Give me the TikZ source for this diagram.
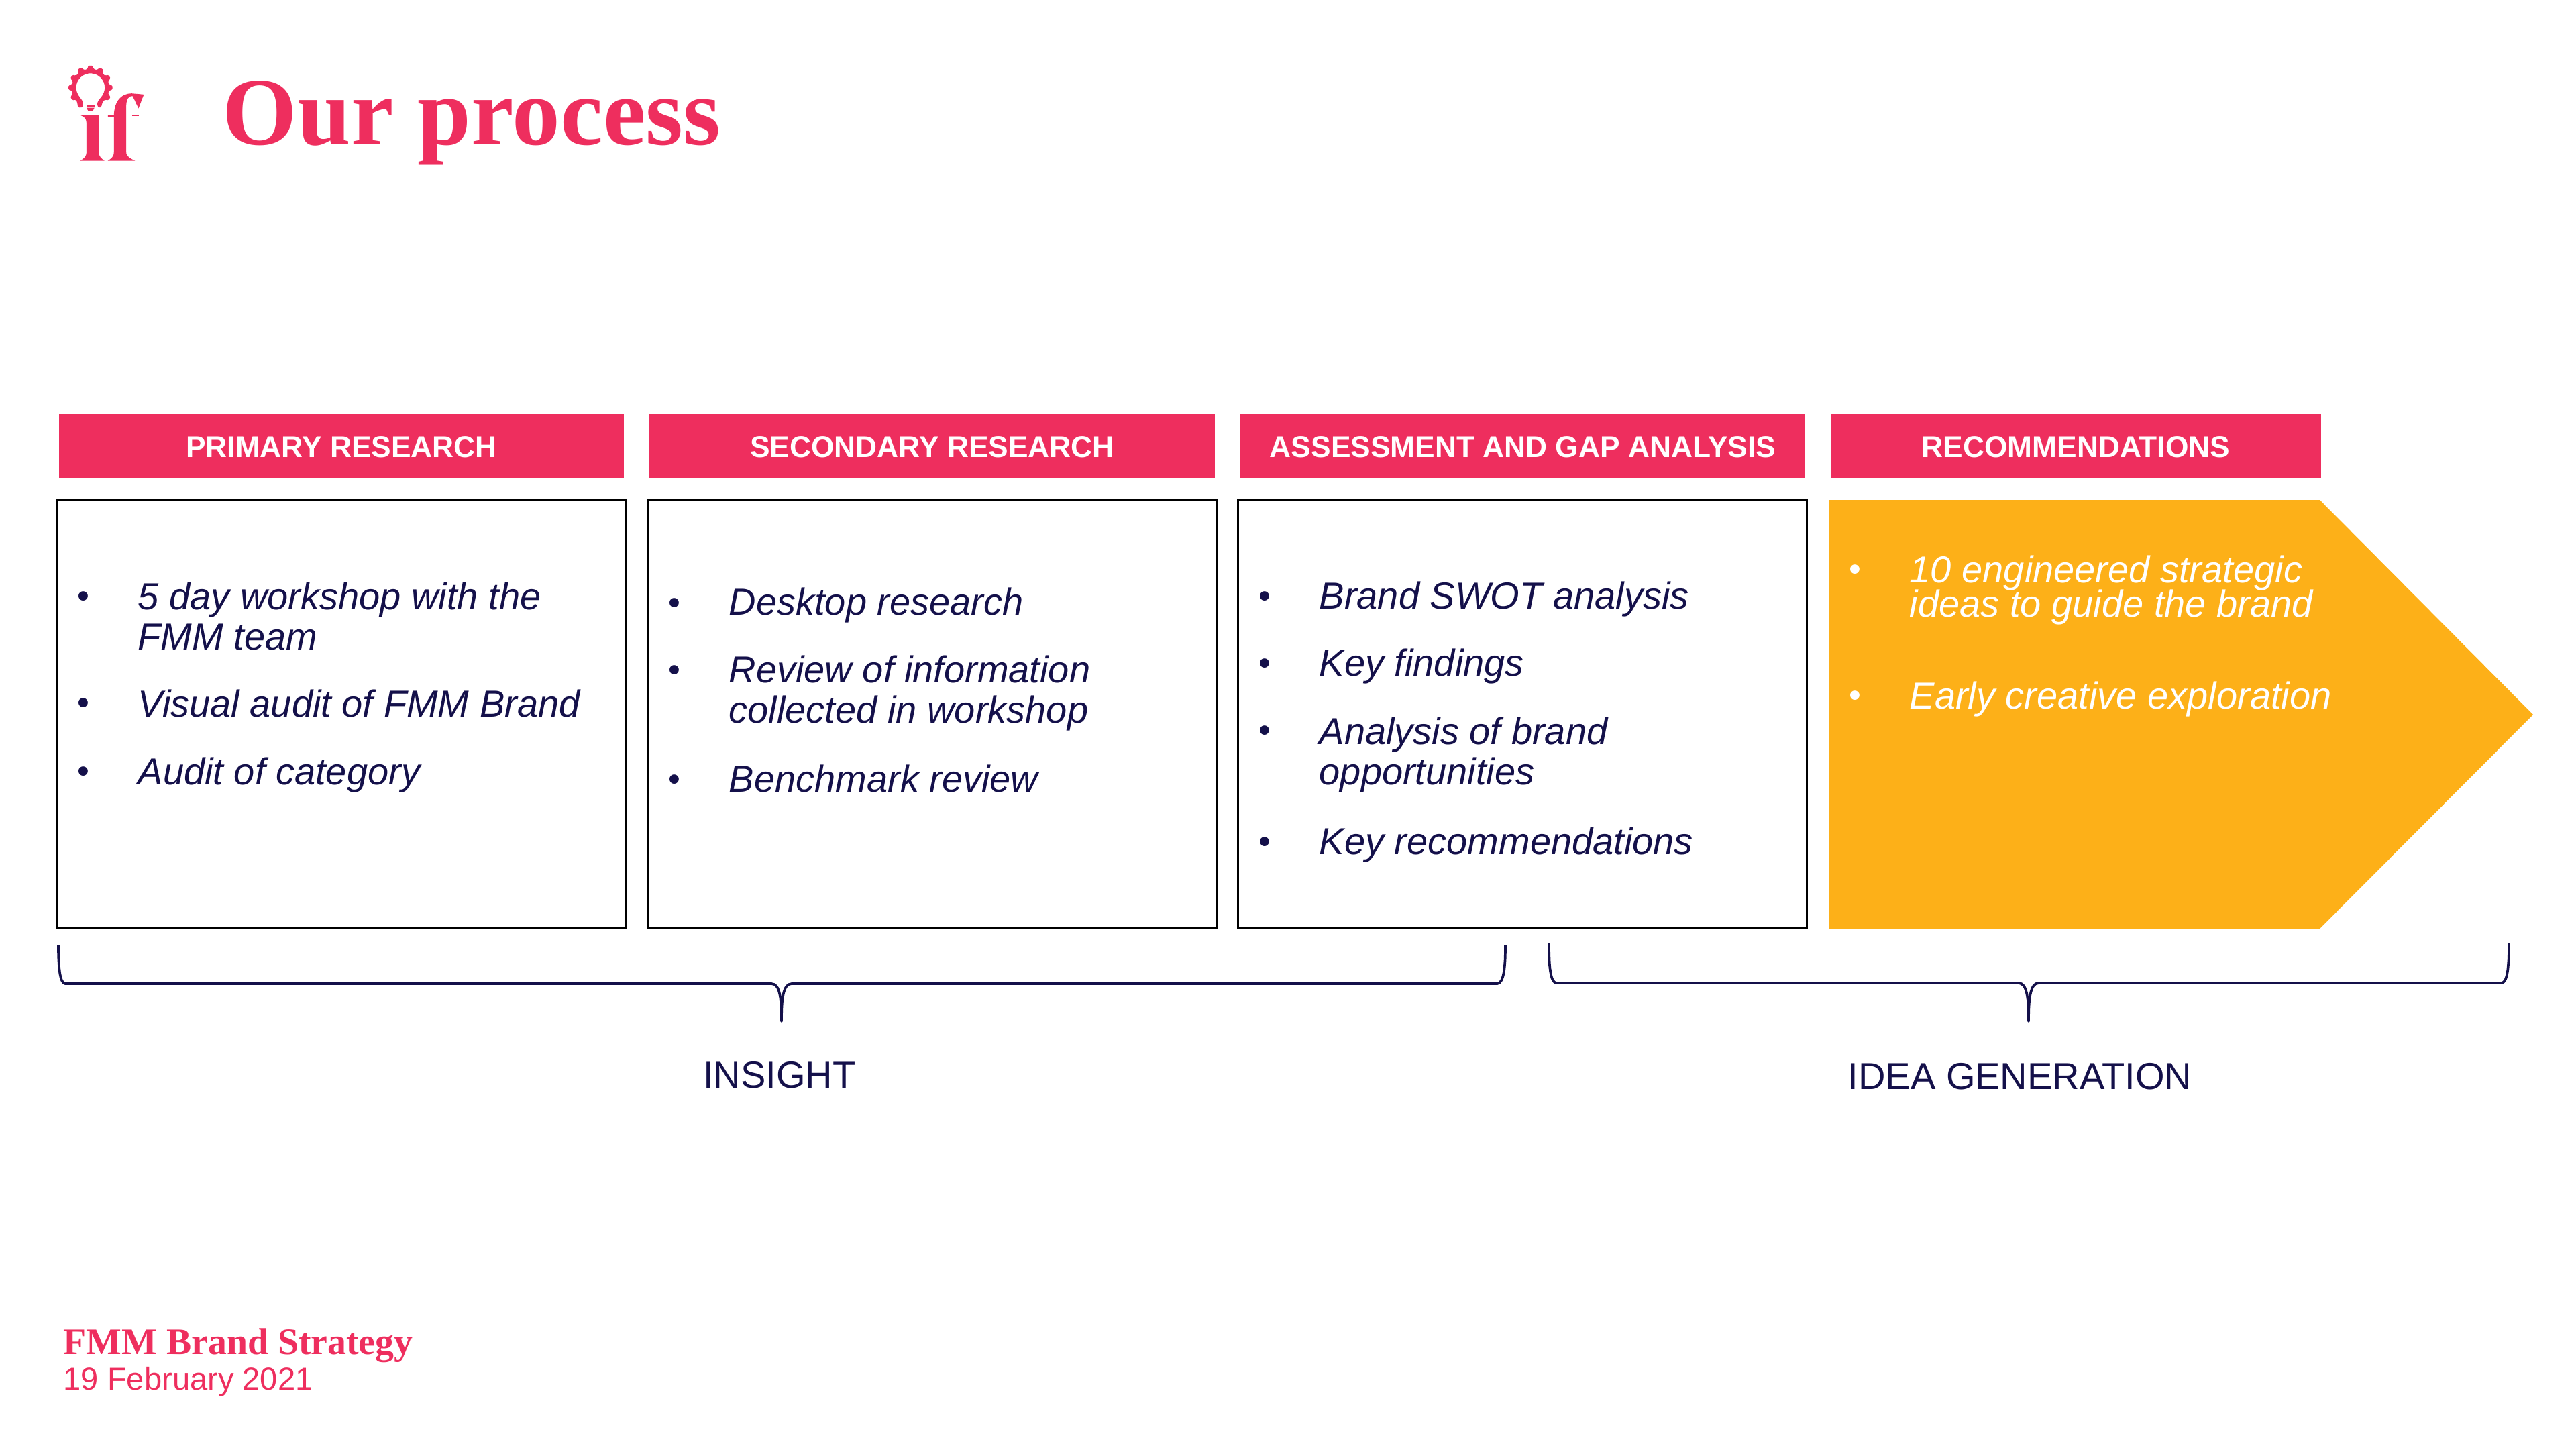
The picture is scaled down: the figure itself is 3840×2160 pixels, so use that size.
\documentclass[tikz,border=0pt]{standalone}
\usepackage{fontspec}
\setmainfont{Liberation Sans}
\newfontfamily\serifbold{Liberation Serif}
\definecolor{pinkc}{HTML}{EE2E5E}
\definecolor{navyc}{HTML}{14104A}
\definecolor{orangec}{HTML}{FDB018}
\newcommand{\szf}[2]{\lineskiplimit=-100pt\fontsize{#1}{#2}\selectfont}
\tikzset{
  x=0.01cm,y=-0.01cm,
  headbox/.style={fill=pinkc,draw=none,text=white,inner sep=0pt,font=\bfseries\szf{12.6pt}{15pt}},
  panel/.style={draw=black,line width=0.85pt,fill=white,inner sep=0pt,outer sep=0pt},
  item/.style={anchor=base west,inner sep=0pt,align=left,text=navyc,font=\itshape\szf{15.93pt}{16.8pt}},
  itemw/.style={anchor=base west,inner sep=0pt,align=left,text=white,font=\itshape\szf{15.93pt}{14.5pt}},
  dotb/.style={anchor=base,inner sep=0pt,text=navyc,font=\szf{14.5pt}{15pt}},
  dotw/.style={anchor=base,inner sep=0pt,text=white,font=\szf{14.5pt}{15pt}},
  bracec/.style={draw=navyc,line width=1.05pt,line join=round},
  lab/.style={anchor=base,inner sep=0pt,text=navyc,font=\szf{15.93pt}{17pt}},
}
\begin{document}
\begin{tikzpicture}
\useasboundingbox (0,0) rectangle (3840,2160);
\fill[white] (0,0) rectangle (3840,2160);
% logo
\begin{scope}[shift={(60,60)},x=0.00333333cm,y=-0.00333333cm,fill=pinkc]
  % gear bulb
  \fill[rounded corners=0.5pt] (167,282)
    \foreach \a in {210,180,...,-30} {
      -- ({225+84*cos(\a+9)},{212-84*sin(\a+9)})
      -- ({225+99*cos(\a+6)},{212-99*sin(\a+6)})
      -- ({225+99*cos(\a-6)},{212-99*sin(\a-6)})
      -- ({225+84*cos(\a-9)},{212-84*sin(\a-9)})
    }
    -- (276,282) -- (276,296) -- (264,304) -- (256,296) -- (256,276)
    \foreach \a in {-38,-30,...,218} {
      -- ({225+64*cos(\a)},{212-64*sin(\a)})
    }
    -- (192,276) -- (192,296) -- (180,304) -- (167,296) -- cycle;
  \fill (207,290) rectangle (243,296);
  \fill (207,302) -- (243,302) -- (235,317) -- (215,317) -- cycle;
  % i
  \fill (178,335) -- (262,335) -- (262,500) .. controls (262,522) and (275,530) .. (288,540) -- (178,540) .. controls (195,530) and (207,522) .. (207,500) -- (207,370) .. controls (207,350) and (195,342) .. (178,335) -- cycle;
  % f
  \fill (330,500) -- (330,342) -- (303,342) -- (303,336) -- (330,336) .. controls (332,270) and (365,238) .. (410,238) -- (464,243) -- (440,305) -- (414,250) .. controls (395,248) and (385,265) .. (385,300) -- (385,500) .. controls (385,522) and (405,530) .. (425,540) -- (302,540) .. controls (318,530) and (330,522) .. (330,500) -- cycle;
  \fill (412,335) rectangle (442,341);
\end{scope}
% title
\node[anchor=base west,inner sep=0pt,text=pinkc,font=\serifbold\bfseries\szf{40.8pt}{42pt}] (title) at (331,215) {Our process};
% headers
\node[headbox,minimum width=842*0.01cm,minimum height=96*0.01cm,text height=9.2pt,text depth=0pt] (h1) at (509,665) {PRIMARY RESEARCH};
\node[headbox,minimum width=843*0.01cm,minimum height=96*0.01cm,text height=9.2pt,text depth=0pt] (h2) at (1389.5,665) {SECONDARY RESEARCH};
\node[headbox,minimum width=842*0.01cm,minimum height=96*0.01cm,text height=9.2pt,text depth=0pt] (h3) at (2270,665) {ASSESSMENT AND GAP ANALYSIS};
\node[headbox,minimum width=731*0.01cm,minimum height=96*0.01cm,text height=9.2pt,text depth=0pt] (h4) at (3094.5,665) {RECOMMENDATIONS};
% panels
\node[panel,minimum width=847*0.01cm,minimum height=638*0.01cm] (p1) at (508.5,1064.5) {};
\node[panel,minimum width=848*0.01cm,minimum height=638*0.01cm] (p2) at (1389,1064.5) {};
\node[panel,minimum width=848*0.01cm,minimum height=638*0.01cm] (p3) at (2269,1064.5) {};
\fill[orangec] (2727,745) -- (3458,745) -- (3776,1065) -- (3458,1384) -- (2727,1384) -- cycle;
% panel 1
\node[dotb] (d11) at (124,905) {•};
\node[item] (t11) at (205,968) {5 day workshop with the\\FMM team};
\node[dotb] (d12) at (124,1064) {•};
\node[item] (t12) at (205,1068) {Visual audit of FMM Brand};
\node[dotb] (d13) at (124,1166) {•};
\node[item] (t13) at (205,1169) {Audit of category};
% panel 2
\node[dotb] (d21) at (1005,915) {•};
\node[item] (t21) at (1086,916) {Desktop research};
\node[dotb] (d22) at (1005,1015) {•};
\node[item] (t22) at (1086,1077) {Review of information\\collected in workshop};
\node[dotb] (d23) at (1005,1178) {•};
\node[item] (t23) at (1086,1180) {Benchmark review};
% panel 3
\node[dotb] (d31) at (1885,905) {•};
\node[item] (t31) at (1966,907) {Brand SWOT analysis};
\node[dotb] (d32) at (1885,1005) {•};
\node[item] (t32) at (1966,1007) {Key findings};
\node[dotb] (d33) at (1885,1105) {•};
\node[item] (t33) at (1966,1169) {Analysis of brand\\opportunities};
\node[dotb] (d34) at (1885,1271) {•};
\node[item] (t34) at (1966,1273) {Key recommendations};
% panel 4
\node[dotw] (d41) at (2765,865) {•};
\node[itemw] (t41) at (2846,919) {10 engineered strategic\\ideas to guide the brand};
\node[dotw] (d42) at (2765,1053) {•};
\node[itemw] (t42) at (2846,1056) {Early creative exploration};
% braces
\coordinate (b1a) at (87,1409);
\coordinate (b1m) at (1165,1522);
\coordinate (b1b) at (2244,1409);
\coordinate (b2a) at (2309,1406);
\coordinate (b2m) at (3024,1522);
\coordinate (b2b) at (3740,1406);
\draw[bracec] (b1a) .. controls (87,1440) and (89,1465) .. (97,1466) -- (1150,1466) .. controls (1163,1466) and (1165,1490) .. (b1m) .. controls (1165,1490) and (1167,1466) .. (1180,1466) -- (2232,1466) .. controls (2242,1465) and (2244,1440) .. (b1b);
\draw[bracec] (b2a) .. controls (2309,1440) and (2311,1464) .. (2320,1465) -- (3009,1465) .. controls (3022,1465) and (3024,1490) .. (b2m) .. controls (3024,1490) and (3026,1465) .. (3039,1465) -- (3729,1465) .. controls (3738,1464) and (3740,1440) .. (b2b);
\node[lab] (insight) at (1162,1621) {INSIGHT};
\node[lab] (idea) at (3011,1623) {IDEA GENERATION};
% footer
\node[anchor=base west,inner sep=0pt,text=pinkc,font=\serifbold\bfseries\szf{15.87pt}{17pt}] (f1) at (94,2018) {FMM Brand Strategy};
\node[anchor=base west,inner sep=0pt,text=pinkc,font=\szf{13.4pt}{15pt}] (f2) at (94,2071) {19 February 2021};
\end{tikzpicture}
\end{document}
